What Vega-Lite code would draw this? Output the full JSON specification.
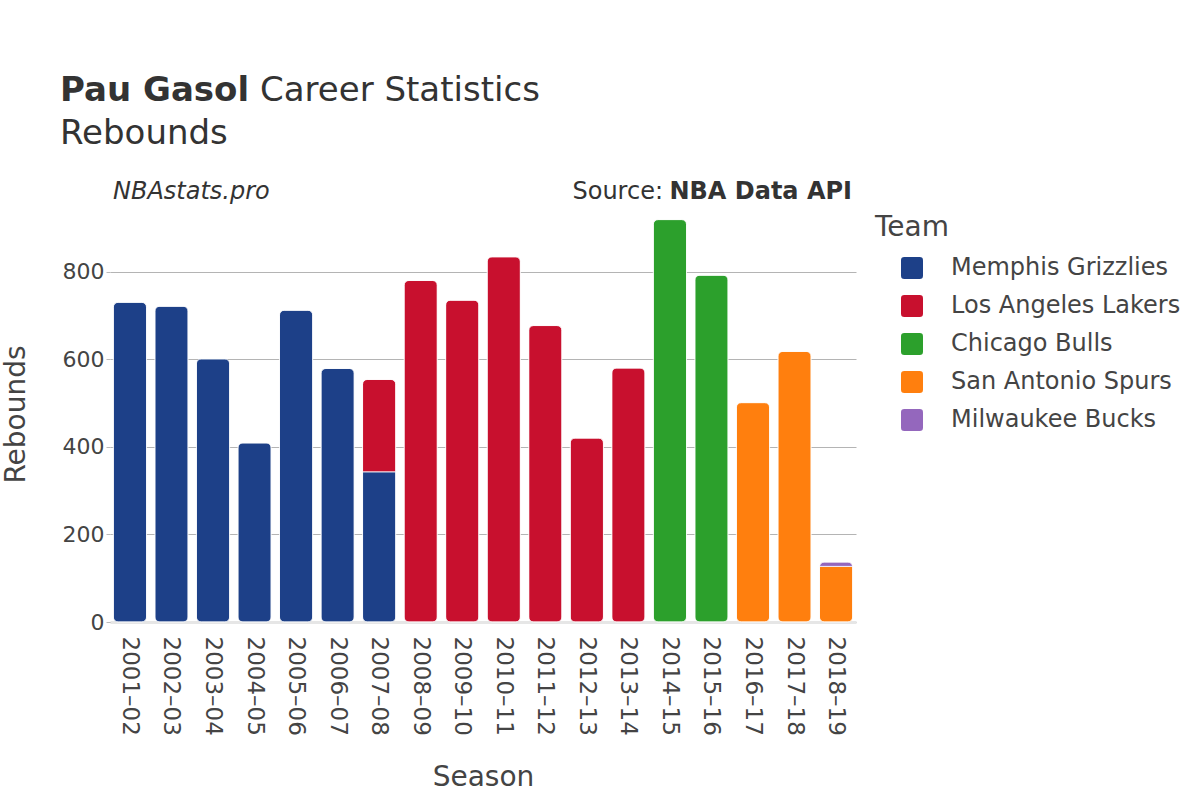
{
  "$schema": "https://vega.github.io/schema/vega-lite/v6.json",
  "width": 746,
  "height": 416,
  "autosize": {"type": "none"},
  "padding": {"left": 110, "top": 206, "right": 344, "bottom": 178},
  "background": "white",
  "config": {
    "font": "DejaVu Sans",
    "view": {"stroke": null}
  },
  "datasets": {
    "stats": [
      {"season": "2001–02", "team": "Memphis Grizzlies", "rebounds": 730},
      {"season": "2002–03", "team": "Memphis Grizzlies", "rebounds": 721},
      {"season": "2003–04", "team": "Memphis Grizzlies", "rebounds": 601},
      {"season": "2004–05", "team": "Memphis Grizzlies", "rebounds": 409},
      {"season": "2005–06", "team": "Memphis Grizzlies", "rebounds": 712},
      {"season": "2006–07", "team": "Memphis Grizzlies", "rebounds": 579},
      {"season": "2007–08", "team": "Memphis Grizzlies", "rebounds": 343},
      {"season": "2007–08", "team": "Los Angeles Lakers", "rebounds": 211},
      {"season": "2008–09", "team": "Los Angeles Lakers", "rebounds": 780},
      {"season": "2009–10", "team": "Los Angeles Lakers", "rebounds": 735},
      {"season": "2010–11", "team": "Los Angeles Lakers", "rebounds": 834},
      {"season": "2011–12", "team": "Los Angeles Lakers", "rebounds": 677},
      {"season": "2012–13", "team": "Los Angeles Lakers", "rebounds": 420},
      {"season": "2013–14", "team": "Los Angeles Lakers", "rebounds": 580},
      {"season": "2014–15", "team": "Chicago Bulls", "rebounds": 919},
      {"season": "2015–16", "team": "Chicago Bulls", "rebounds": 792},
      {"season": "2016–17", "team": "San Antonio Spurs", "rebounds": 501},
      {"season": "2017–18", "team": "San Antonio Spurs", "rebounds": 618},
      {"season": "2018–19", "team": "San Antonio Spurs", "rebounds": 127},
      {"season": "2018–19", "team": "Milwaukee Bucks", "rebounds": 10}
    ],
    "one": [{"k": 1}]
  },
  "layer": [
    {
      "data": {"name": "stats"},
      "mark": {"type": "bar", "cornerRadius": 5, "stroke": "white", "strokeWidth": 0.8},
      "encoding": {
        "x": {
          "field": "season",
          "type": "nominal",
          "title": "Season",
          "scale": {"paddingInner": 0.2, "paddingOuter": 0.08},
          "axis": {
            "labelAngle": 90,
            "labelAlign": "left",
            "labelBaseline": "middle",
            "labelFontSize": 23,
            "labelColor": "#444",
            "labelPadding": 14,
            "ticks": false,
            "domain": true,
            "domainColor": "#e6e6e6",
            "domainWidth": 3,
            "titleFontSize": 28,
            "titleFontWeight": "normal",
            "titleColor": "#444",
            "titlePadding": 28
          }
        },
        "y": {
          "field": "rebounds",
          "type": "quantitative",
          "aggregate": "sum",
          "stack": "zero",
          "title": "Rebounds",
          "scale": {"domain": [0, 950], "nice": false},
          "axis": {
            "values": [0, 200, 400, 600, 800],
            "labelFontSize": 22,
            "labelColor": "#444",
            "labelPadding": 2,
            "tickSize": 4,
            "tickColor": "#bbb",
            "domain": false,
            "gridColor": "#b4b4b4",
            "gridWidth": 1,
            "titleFontSize": 28,
            "titleFontWeight": "normal",
            "titleColor": "#444",
            "titlePadding": 32
          }
        },
        "color": {
          "field": "team",
          "type": "nominal",
          "title": "Team",
          "sort": ["Memphis Grizzlies", "Los Angeles Lakers", "Chicago Bulls", "San Antonio Spurs", "Milwaukee Bucks"],
          "scale": {
            "domain": ["Memphis Grizzlies", "Los Angeles Lakers", "Chicago Bulls", "San Antonio Spurs", "Milwaukee Bucks"],
            "range": ["#1d4088", "#c8102e", "#2ca02c", "#ff7f0e", "#9467bd"]
          },
          "legend": {
            "orient": "none",
            "legendX": 765,
            "legendY": 8,
            "titleFontSize": 28,
            "titleFontWeight": "normal",
            "titleColor": "#444",
            "titlePadding": 14,
            "labelFontSize": 24,
            "labelColor": "#444",
            "labelLimit": 400,
            "labelOffset": 27,
            "rowPadding": 14,
            "symbolOffset": 25,
            "symbolSize": 484,
            "symbolStrokeWidth": 0,
            "symbolType": "M -0.7 -1 H 0.7 Q 1 -1 1 -0.7 V 0.7 Q 1 1 0.7 1 H -0.7 Q -1 1 -1 0.7 V -0.7 Q -1 -1 -0.7 -1 Z"
          }
        },
        "order": {"field": "team", "sort": "descending"}
      }
    },
    {
      "data": {"name": "one"},
      "mark": {"type": "text", "text": "Pau Gasol", "fontSize": 34, "fontWeight": "bold", "align": "left", "baseline": "alphabetic", "color": "#333"},
      "encoding": {"x": {"value": -50}, "y": {"value": -105}}
    },
    {
      "data": {"name": "one"},
      "mark": {"type": "text", "text": "Career Statistics", "fontSize": 34, "align": "left", "baseline": "alphabetic", "color": "#333"},
      "encoding": {"x": {"value": 150}, "y": {"value": -105}}
    },
    {
      "data": {"name": "one"},
      "mark": {"type": "text", "text": "Rebounds", "fontSize": 34, "align": "left", "baseline": "alphabetic", "color": "#333"},
      "encoding": {"x": {"value": -50}, "y": {"value": -62}}
    },
    {
      "data": {"name": "one"},
      "mark": {"type": "text", "text": "NBAstats.pro", "fontSize": 24, "fontStyle": "italic", "align": "left", "baseline": "alphabetic", "color": "#333"},
      "encoding": {"x": {"value": 3}, "y": {"value": -7}}
    },
    {
      "data": {"name": "one"},
      "mark": {"type": "text", "text": "NBA Data API", "fontSize": 24, "fontWeight": "bold", "align": "right", "baseline": "alphabetic", "color": "#333"},
      "encoding": {"x": {"value": 742}, "y": {"value": -7}}
    },
    {
      "data": {"name": "one"},
      "mark": {"type": "text", "text": "Source:", "fontSize": 24, "align": "right", "baseline": "alphabetic", "color": "#333"},
      "encoding": {"x": {"value": 553}, "y": {"value": -7}}
    }
  ]
}
